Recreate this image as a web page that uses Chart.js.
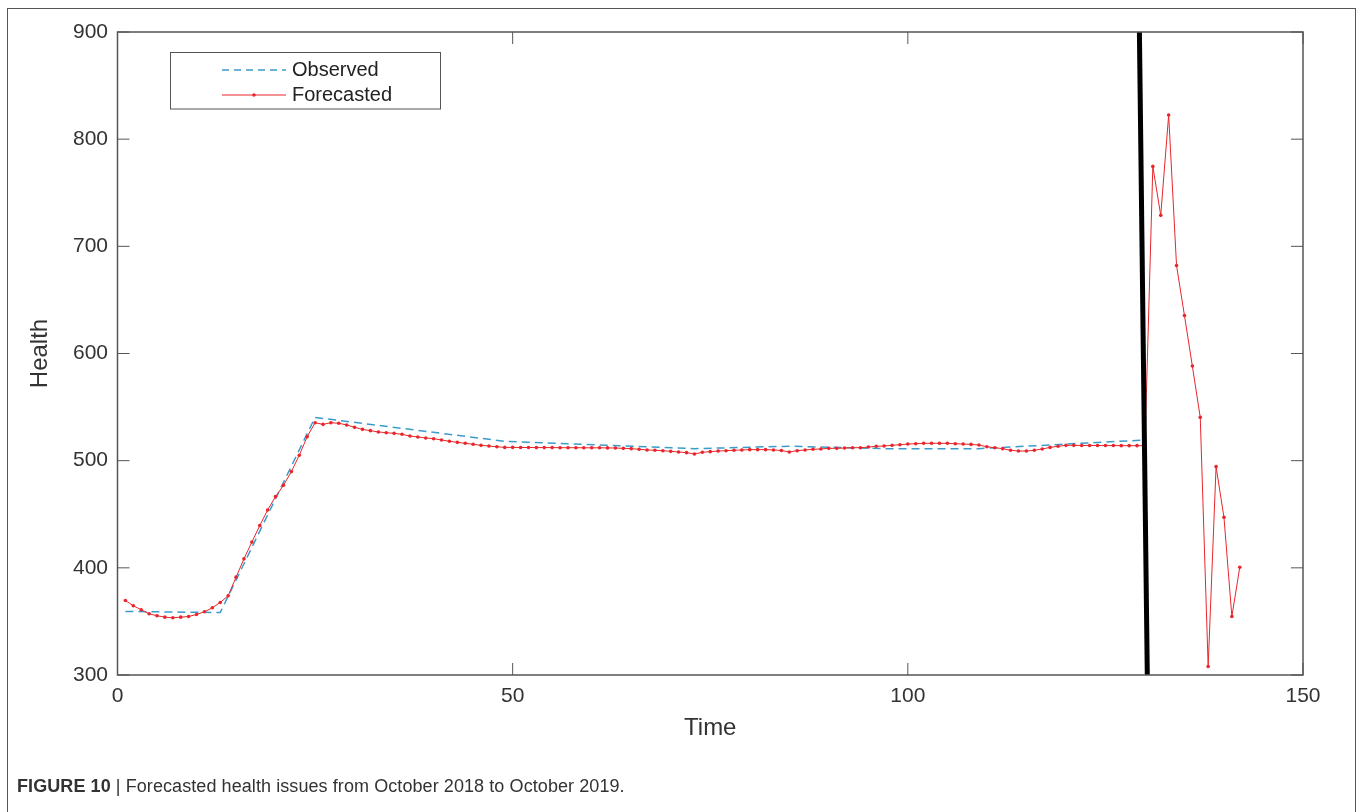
<!DOCTYPE html>
<html>
<head>
<meta charset="utf-8">
<script src="https://cdn.jsdelivr.net/npm/chart.js@4.4.1/dist/chart.umd.min.js"></script>
<style>
    html, body { margin: 0; padding: 0; background: #fff; }
    body { width: 1357px; height: 812px; position: relative; overflow: hidden; font-family: "Liberation Sans", Arial, sans-serif; }
    #frame { position: absolute; left: 7px; top: 8px; width: 1349px; height: 810px; border: 1.5px solid #555; border-bottom: none; box-sizing: border-box; }
    #wrap { position: absolute; left: 0; top: 0; width: 1357px; height: 812px; }
    #caption { position: absolute; left: 17px; top: 776px; font-size: 18px; color: #333; white-space: nowrap; letter-spacing: 0.08px; }
    #caption b { font-weight: bold; }
</style>
</head>
<body>
<div id="frame"></div>
<div id="wrap"><canvas id="healthChart" width="1357" height="812"></canvas></div>
<div id="caption"><b>FIGURE 10</b> | Forecasted health issues from October 2018 to October 2019.</div>
<script>
// Observed series (piecewise, knots only)
const observedTime = [1, 13, 25, 49, 73, 85, 97, 109, 130];
const observedHealth = [359.3, 358.3, 540.4, 518.0, 511.2, 513.5, 511.2, 511.2, 519.3];

// Forecasted series, t = 1..142
const forecastHealth = [
    369.5, 364.6, 360.9, 357.1, 355.3, 354.0, 353.4, 354.0, 354.6, 356.5, 359.0, 362.7, 367.7, 373.9,
    391.3, 408.4, 424.0, 439.4, 454.0, 466.5, 477.0, 489.8, 505.0, 522.4, 535.4,
    533.9, 535.4, 534.9, 533.3, 531.1, 529.2, 528.0, 526.8, 526.1, 525.5, 524.6, 523.0,
    522.1, 521.2, 520.5, 519.3, 518.1, 517.1, 516.2, 515.3, 514.3, 513.7, 513.0, 512.4,
    512.4, 512.3, 512.3, 512.2, 512.2, 512.2, 512.1, 512.1, 512.1, 512.0, 512.0, 512.0,
    511.9, 511.8, 511.5, 511.2, 510.6, 510.0, 509.7, 509.3, 508.7, 508.1, 507.5, 506.2,
    507.8, 508.4, 509.0, 509.3, 509.7, 510.0, 510.3, 510.3, 510.3, 510.0,
    509.5, 508.1, 509.3, 510.0, 510.6, 510.9, 511.5, 511.5, 511.8, 512.1, 512.1, 512.7,
    513.4, 513.7, 514.3, 514.9, 515.5, 515.8, 516.2, 516.2, 516.2, 516.2, 515.8, 515.5, 515.2, 514.6,
    513.0, 512.1, 511.2, 509.7, 509.0, 509.0, 509.7, 510.9, 512.4, 513.4, 514.3,
    514.3, 514.2, 514.2, 514.1, 514.1, 514.1, 514.0, 514.0, 514.0, 514.0,
    774.6, 728.9, 822.5, 682.1, 635.5, 588.3, 540.4, 308.0, 494.4, 447.2, 354.6, 400.6
];
const forecastTime = forecastHealth.map((_, i) => i + 1);

// Divider between in-sample and forecast
const dividerTime = [129.3, 130.3];
const dividerHealth = [900, 300];

const xTicks = [0, 50, 100, 150];
const yTicks = [300, 400, 500, 600, 700, 800, 900];

const toPoints = (xs, ys) => xs.map((x, i) => ({x: x, y: ys[i]}));

const OBS_COLOR = '#3b9bcb';
const FC_COLOR = '#e8262b';
const AXIS_COLOR = '#555';
const TEXT_COLOR = '#333';

// MATLAB-like box, inward ticks and legend
const boxPlugin = {
    id: 'boxPlugin',
    afterDatasetsDraw(chart) {
        const {ctx, chartArea: a, scales} = chart;
        ctx.save();
        ctx.strokeStyle = AXIS_COLOR;
        ctx.lineWidth = 1.5;
        ctx.strokeRect(a.left, a.top, a.right - a.left, a.bottom - a.top);
        ctx.lineWidth = 1;
        ctx.beginPath();
        yTicks.forEach(v => {
            const py = scales.y.getPixelForValue(v);
            ctx.moveTo(a.left, py); ctx.lineTo(a.left + 12, py);
            ctx.moveTo(a.right, py); ctx.lineTo(a.right - 12, py);
        });
        xTicks.forEach(v => {
            const px = scales.x.getPixelForValue(v);
            ctx.moveTo(px, a.bottom); ctx.lineTo(px, a.bottom - 12);
            ctx.moveTo(px, a.top); ctx.lineTo(px, a.top + 12);
        });
        ctx.stroke();
        ctx.restore();
    },
    afterDraw(chart) {
        const ctx = chart.ctx;
        ctx.save();
        ctx.fillStyle = '#fff';
        ctx.fillRect(171, 53, 270, 56);
        ctx.strokeStyle = AXIS_COLOR;
        ctx.lineWidth = 1;
        ctx.strokeRect(170.5, 52.5, 270, 56.5);
        // Observed
        ctx.strokeStyle = OBS_COLOR;
        ctx.lineWidth = 1.5;
        ctx.setLineDash([7, 5]);
        ctx.beginPath(); ctx.moveTo(222, 70); ctx.lineTo(286, 70); ctx.stroke();
        ctx.setLineDash([]);
        // Forecasted
        ctx.strokeStyle = FC_COLOR;
        ctx.lineWidth = 1;
        ctx.beginPath(); ctx.moveTo(222, 95); ctx.lineTo(286, 95); ctx.stroke();
        ctx.fillStyle = FC_COLOR;
        ctx.beginPath(); ctx.arc(254, 95, 1.8, 0, Math.PI * 2); ctx.fill();
        ctx.fillStyle = '#222';
        ctx.font = '20px "Liberation Sans", Arial, sans-serif';
        ctx.textBaseline = 'middle';
        ctx.fillText('Observed', 292, 70);
        ctx.fillText('Forecasted', 292, 95);
        ctx.restore();
    }
};

const ctx = document.getElementById('healthChart').getContext('2d');
new Chart(ctx, {
    type: 'scatter',
    data: {
        datasets: [
            {
                label: 'divider',
                data: toPoints(dividerTime, dividerHealth),
                showLine: true,
                borderColor: '#000',
                borderWidth: 5,
                pointRadius: 0,
                order: 0
            },
            {
                label: 'Forecasted',
                data: toPoints(forecastTime, forecastHealth),
                showLine: true,
                borderColor: FC_COLOR,
                borderWidth: 1,
                pointRadius: 1.8,
                pointBackgroundColor: FC_COLOR,
                pointBorderWidth: 0,
                order: 1
            },
            {
                label: 'Observed',
                data: toPoints(observedTime, observedHealth),
                showLine: true,
                borderColor: OBS_COLOR,
                borderWidth: 1.5,
                borderDash: [8, 5],
                pointRadius: 0,
                order: 2
            }
        ]
    },
    options: {
        responsive: false,
        animation: false,
        layout: { padding: { left: 0, top: 32, right: 54, bottom: 62 } },
        plugins: {
            legend: { display: false },
            tooltip: { enabled: false }
        },
        scales: {
            x: {
                type: 'linear',
                min: 0,
                max: 150,
                afterBuildTicks: s => { s.ticks = xTicks.map(v => ({value: v})); },
                afterFit: s => { s.height = 75; },
                grid: { display: false, drawTicks: false },
                border: { display: false },
                ticks: { color: TEXT_COLOR, font: { size: 21, family: '"Liberation Sans", Arial' }, padding: 9, maxRotation: 0 },
                title: { display: true, text: 'Time', color: TEXT_COLOR, font: { size: 24, family: '"Liberation Sans", Arial' }, padding: { bottom: 7.5 } }
            },
            y: {
                min: 300,
                max: 900,
                afterBuildTicks: s => { s.ticks = yTicks.map(v => ({value: v})); },
                afterFit: s => { s.width = 117.5; },
                grid: { display: false, drawTicks: false },
                border: { display: false },
                ticks: { color: TEXT_COLOR, font: { size: 21, family: '"Liberation Sans", Arial' }, padding: 9.5 },
                title: { display: true, text: 'Health', color: TEXT_COLOR, font: { size: 24, family: '"Liberation Sans", Arial' }, padding: { top: 26 } }
            }
        }
    },
    plugins: [boxPlugin]
});
</script>
</body>
</html>
